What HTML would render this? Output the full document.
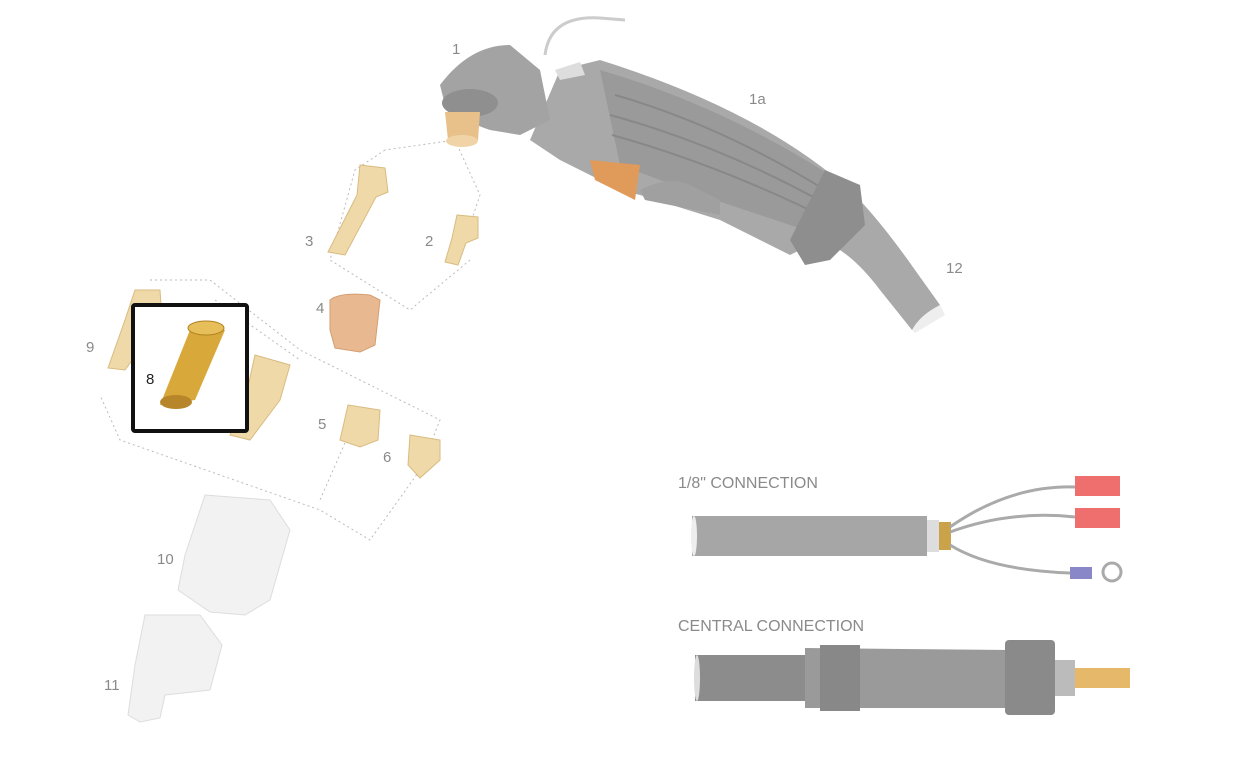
<!DOCTYPE html>
<html><head><meta charset="utf-8"><style>
html,body{margin:0;padding:0;background:#fff;}
svg{display:block;}
text{font-family:"Liberation Sans",sans-serif;fill:#8a8a8a;font-size:15px;}
</style></head><body>
<svg width="1235" height="758" viewBox="0 0 1235 758">
<rect width="1235" height="758" fill="#fff"/>
<g stroke="#bbb" stroke-dasharray="2,3" fill="none" stroke-width="1">
<path d="M455 140 L385 150 M455 140 L480 195 L470 225 M385 150 L355 170 L330 260 L410 310 L470 260"/>
<path d="M150 280 L210 280 L300 350 L440 420 L420 470 L370 540 L320 510 L120 440 L100 395"/>
<path d="M215 300 L300 360 M355 420 L320 500"/>
</g>
<!-- torch -->
<path d="M560 70 L600 60 Q760 110 850 190 Q880 220 915 270 L940 305 L912 330 L880 290 Q850 250 820 240 L790 255 Q760 240 720 220 L640 195 L620 190 L600 180 L560 160 L530 140 Z" fill="#a9a9a9"/>
<path d="M600 70 Q720 105 830 175 L835 240 Q760 215 700 195 L620 165 Z" fill="#9a9a9a"/>
<path d="M615 95 Q720 125 825 190 M610 115 Q720 145 828 205 M612 135 Q720 165 830 220" stroke="#888" stroke-width="2" fill="none"/>
<path d="M825 170 L860 185 L865 225 L830 260 L805 265 L790 240 Z" fill="#8e8e8e"/>
<path d="M640 190 Q670 175 690 185 L720 200 L720 215 L645 200 Z" fill="#a0a0a0"/>
<path d="M590 160 L640 165 L635 200 L595 180 Z" fill="#e09a5a"/>
<path d="M440 85 Q470 45 510 45 L540 70 L550 120 L520 135 L490 130 Q460 120 445 105 Z" fill="#a3a3a3"/>
<ellipse cx="470" cy="103" rx="28" ry="14" fill="#8f8f8f"/>
<path d="M445 112 L480 112 L478 140 L448 140 Z" fill="#e8c08a"/>
<ellipse cx="462" cy="141" rx="16" ry="6" fill="#f0d4a8"/>
<path d="M545 55 Q550 15 600 18 L625 20" stroke="#ccc" stroke-width="3" fill="none"/>
<path d="M555 70 L580 62 L585 75 L560 80 Z" fill="#ddd"/>
<path d="M912 330 Q920 315 940 305 L945 315 L915 333 Z" fill="#eee"/>
<!-- parts -->
<g fill="#f0d9a8" stroke="#d8bb80" stroke-width="1">
<path d="M360 165 L385 168 L388 192 L376 197 L345 255 L328 252 L357 195 Z"/>
<path d="M457 215 L478 217 L478 238 L466 243 L458 265 L445 262 L452 238 Z"/>
<path d="M135 290 L160 290 L162 320 L125 370 L108 368 L125 320 Z"/>
<path d="M255 355 L290 365 L280 400 L250 440 L230 435 L245 400 Z"/>
<path d="M348 405 L380 410 L378 440 L360 447 L340 440 Z"/>
<path d="M410 435 L440 440 L440 460 L420 478 L408 465 Z"/>
</g>
<path d="M330 300 Q340 292 370 295 L380 300 L375 345 L360 352 L335 348 L330 330 Z" fill="#e8b990" stroke="#d49e72"/>
<path d="M205 495 L270 500 L290 530 L270 600 L245 615 L210 612 L178 590 L185 555 Z" fill="#f2f2f2" stroke="#ddd"/>
<path d="M145 615 L200 615 L222 645 L210 690 L165 695 L160 718 L140 722 L128 715 L135 665 Z" fill="#f2f2f2" stroke="#ddd"/>
<rect x="133" y="305" width="114" height="126" fill="#fff" stroke="#111" stroke-width="4" rx="2"/>
<path d="M192 325 L225 330 L195 400 L160 405 Z" fill="#d9a83a"/>
<ellipse cx="206" cy="328" rx="18" ry="7" fill="#e6bf5a" stroke="#b08020"/>
<ellipse cx="176" cy="402" rx="16" ry="7" fill="#b8862a"/>
<text x="452" y="54">1</text><text x="749" y="104">1a</text>
<text x="305" y="246">3</text><text x="425" y="246">2</text>
<text x="316" y="313">4</text><text x="86" y="352">9</text>
<text x="146" y="384" style="fill:#222">8</text>
<text x="318" y="429">5</text><text x="383" y="462">6</text>
<text x="946" y="273">12</text>
<text x="157" y="564">10</text><text x="104" y="690">11</text>
<text x="678" y="488" style="font-size:16px">1/8" CONNECTION</text>
<text x="678" y="631" style="font-size:16px">CENTRAL CONNECTION</text>
<rect x="692" y="516" width="235" height="40" fill="#a6a6a6"/>
<ellipse cx="694" cy="536" rx="3" ry="20" fill="#eee"/>
<rect x="927" y="520" width="12" height="32" fill="#ddd"/>
<rect x="939" y="522" width="12" height="28" fill="#c9a24a"/>
<path d="M950 527 Q1010 485 1075 487 M950 532 Q1010 510 1075 517 M950 545 Q990 570 1070 573" stroke="#aaa" stroke-width="3" fill="none"/>
<rect x="1075" y="476" width="45" height="20" fill="#ef6f6f"/>
<rect x="1075" y="508" width="45" height="20" fill="#ef6f6f"/>
<rect x="1070" y="567" width="22" height="12" fill="#8a87c8"/>
<circle cx="1112" cy="572" r="9" fill="none" stroke="#aaa" stroke-width="3"/>
<rect x="695" y="655" width="120" height="46" fill="#8c8c8c"/>
<ellipse cx="697" cy="678" rx="3" ry="23" fill="#ddd"/>
<path d="M805 648 L1010 650 L1010 708 L805 708 Z" fill="#9a9a9a"/>
<rect x="820" y="645" width="40" height="66" fill="#888"/>
<rect x="1005" y="640" width="50" height="75" fill="#8a8a8a" rx="4"/>
<rect x="1055" y="660" width="20" height="36" fill="#bbb"/>
<rect x="1075" y="668" width="55" height="20" fill="#e6b96a"/>
</svg>
</body></html>
